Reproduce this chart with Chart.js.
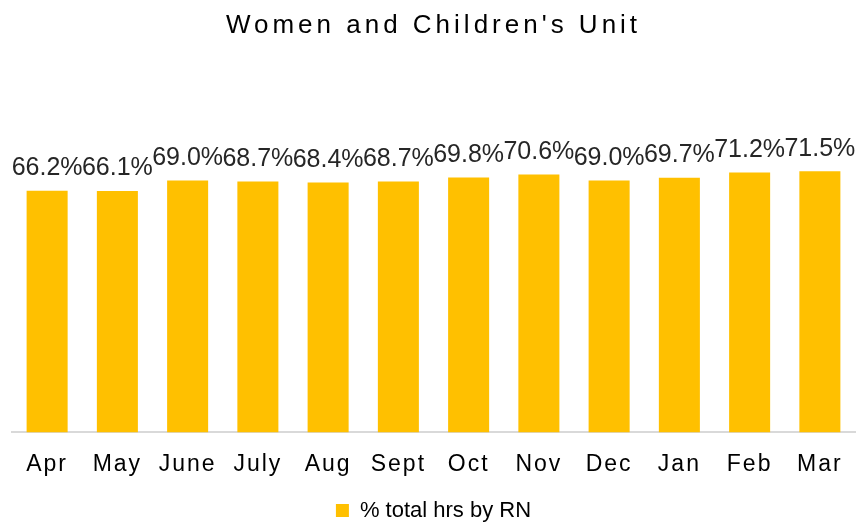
<!DOCTYPE html>
<html>
<head>
<meta charset="utf-8">
<script src="https://cdn.jsdelivr.net/npm/chart.js@4"></script>
<style>
  html, body { margin: 0; padding: 0; background: #fff; }
  #wrap { width: 857px; height: 523px; position: relative; }
</style>
</head>
<body>
<div id="wrap"><canvas id="chart"></canvas></div>
<script>
const months = ["Apr", "May", "June", "July", "Aug", "Sept", "Oct", "Nov", "Dec", "Jan", "Feb", "Mar"];
const rnShare = [66.2, 66.1, 69.0, 68.7, 68.4, 68.7, 69.8, 70.6, 69.0, 69.7, 71.2, 71.5];
const seriesName = "% total hrs by RN";

const $chart = document.getElementById("chart").getContext("2d");

// 막대 위 값 표시 (datalabels 플러그인 대신)
const barLabels = {
  id: "barLabels",
  afterDatasetsDraw(chart) {
    const ctx = chart.ctx;
    const meta = chart.getDatasetMeta(0);
    ctx.save();
    ctx.letterSpacing = "0px";
    ctx.font = "25px 'Liberation Sans', Arial, sans-serif";
    ctx.fillStyle = "#262626";
    ctx.textAlign = "center";
    ctx.textBaseline = "bottom";
    meta.data.forEach((bar, i) => {
      ctx.fillText(rnShare[i].toFixed(1) + "%", bar.x, bar.y - 10);
    });
    ctx.restore();
  },
};

// 제목, 축 글자 간격
const spacing = {
  id: "spacing",
  beforeDraw(chart) {
    chart.ctx.letterSpacing = "2px";
  },
  afterLayout(chart) {
    const legend = chart.legend;
    if (legend && !legend._wrapped) {
      const orig = legend.draw.bind(legend);
      legend.draw = function () {
        const ctx = chart.ctx;
        const prev = ctx.letterSpacing;
        ctx.letterSpacing = "0px";
        orig();
        ctx.letterSpacing = prev;
      };
      legend._wrapped = true;
    }
    const title = chart.titleBlock;
    if (title && !title._wrapped) {
      const orig = title.draw.bind(title);
      title.draw = function () {
        const ctx = chart.ctx;
        const prev = ctx.letterSpacing;
        ctx.letterSpacing = "4px";
        orig();
        ctx.letterSpacing = prev;
      };
      title._wrapped = true;
    }
  },
  afterDraw(chart) {
    chart.ctx.letterSpacing = "0px";
  },
};

const chartOption = {
  type: "bar",
  data: {
    labels: months,
    datasets: [
      {
        label: seriesName,
        data: rnShare,
        backgroundColor: "#FFC000",
        borderWidth: 0,
        barPercentage: 0.73,
        categoryPercentage: 0.8,
      },
    ],
  },
  options: {
    responsive: true,
    maintainAspectRatio: false,
    animation: false,
    layout: { padding: { left: 12, right: 2, top: 0, bottom: -8.5 } },
    scales: {
      x: {
        grid: { display: false },
        border: { display: true, color: "#d9d9d9", width: 2 },
        ticks: {
          color: "#000",
          font: { family: "'Liberation Sans', Arial, sans-serif", size: 23 },
          padding: 10,
          maxRotation: 0,
        },
      },
      y: {
        display: false,
        min: 0,
        max: 100,
      },
    },
    plugins: {
      title: {
        display: true,
        text: "Women and Children's Unit",
        color: "#000",
        font: { family: "'Liberation Sans', Arial, sans-serif", size: 26, weight: "normal" },
        padding: { top: 10, bottom: 26 },
      },
      legend: {
        position: "bottom",
        labels: {
          color: "#000",
          font: { family: "'Liberation Sans', Arial, sans-serif", size: 22 },
          boxWidth: 13,
          boxHeight: 13,
          padding: 11.5,
        },
      },
      tooltip: { enabled: false },
    },
  },
  plugins: [barLabels, spacing],
};

new Chart($chart, chartOption);
</script>
</body>
</html>
